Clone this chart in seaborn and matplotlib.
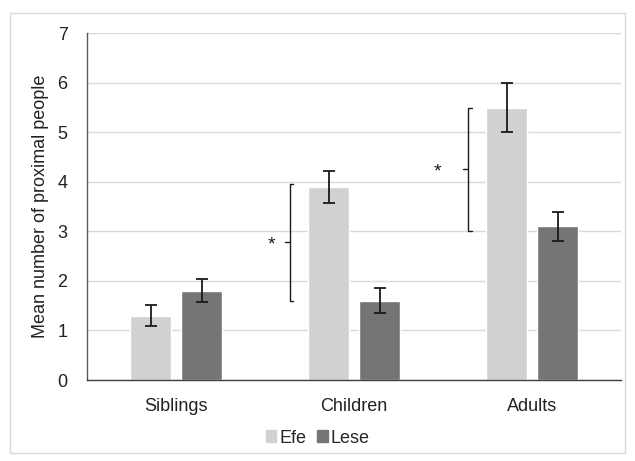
import matplotlib
matplotlib.use("Agg")
import matplotlib.pyplot as plt
from matplotlib.patches import Rectangle
import seaborn as sns
import pandas as pd
import numpy as np

categories = ["Siblings", "Children", "Adults"]
groups = ["Efe", "Lese"]
efe_means = [1.3, 3.9, 5.5]
lese_means = [1.8, 1.6, 3.1]
efe_err = [0.21, 0.32, 0.5]
lese_err = [0.235, 0.25, 0.3]
y_ticks = [0, 1, 2, 3, 4, 5, 6, 7]

palette = {"Efe": "#d0d1d0", "Lese": "#757575"}

df = pd.DataFrame({
    "category": categories * 2,
    "group": ["Efe"] * 3 + ["Lese"] * 3,
    "mean": efe_means + lese_means,
    "err": efe_err + lese_err,
})

sns.set_theme(style="white")
plt.rcParams["font.family"] = ["Liberation Sans", "DejaVu Sans"]

fig = plt.figure(figsize=(6.35, 4.61), dpi=100)
ax = fig.add_axes([0.137, 0.1757, 0.841, 0.7523])

# outer frame of the chart area
fig.patches.append(Rectangle((10 / 635, 8 / 461), 615 / 635, 440 / 461,
                             transform=fig.transFigure, fill=False,
                             edgecolor="#d9d9d9", linewidth=1.0, zorder=0))

sns.barplot(data=df, x="category", y="mean", hue="group", order=categories,
            hue_order=groups, palette=palette, width=0.573, gap=0.197,
            saturation=1, errorbar=None, legend=False, ax=ax, zorder=2)

# error bars placed at the centre of each drawn bar
for cont, grp in zip(ax.containers, groups):
    sub = df[df["group"] == grp].set_index("category").loc[categories]
    xs = [b.get_x() + b.get_width() / 2 for b in cont]
    ax.errorbar(xs, sub["mean"], yerr=sub["err"], fmt="none", ecolor="#1a1a1a",
                elinewidth=1.3, capsize=4.5, capthick=1.3, zorder=3)

ax.set_ylim(0, 7)
ax.set_xlim(-0.5, 2.5)
ax.set_yticks(y_ticks)
ax.yaxis.grid(True, color="#d9d9d9", linewidth=1.0)
ax.set_axisbelow(True)
for s in ["top", "right"]:
    ax.spines[s].set_visible(False)
ax.spines["left"].set_color("#595959")
ax.spines["bottom"].set_color("#404040")
ax.spines["left"].set_linewidth(1.0)
ax.spines["bottom"].set_linewidth(1.0)
ax.tick_params(axis="both", length=0, labelsize=13, colors="#222222")
ax.tick_params(axis="x", pad=13)
ax.tick_params(axis="y", pad=14)
ax.set_xlabel("")
ax.set_ylabel("Mean number of proximal people", fontsize=13, color="#222222", labelpad=6)

# significance brackets
def bracket(x, y0, y1, ymid, xstar):
    ax.plot([x + 0.02, x, x, x + 0.02], [y0, y0, y1, y1], color="#1a1a1a", lw=1.0, zorder=4)
    ax.plot([x - 0.025, x], [ymid, ymid], color="#1a1a1a", lw=1.0, zorder=4)
    ax.text(xstar, ymid - 0.05, "*", ha="center", va="center", fontsize=14, color="#1a1a1a")

bracket(0.64, 1.6, 3.95, 2.78, 0.535)
bracket(1.64, 3.0, 5.5, 4.25, 1.47)

handles = [Rectangle((0, 0), 1, 1, color=palette[g]) for g in groups]
fig.legend(handles, groups, loc="center", bbox_to_anchor=(0.5, 1 - 438 / 461), ncol=2,
           frameon=False, fontsize=13, handlelength=0.6, handleheight=0.6,
           handletextpad=0.15, columnspacing=0.6)

fig.savefig("out.png", dpi=100)
